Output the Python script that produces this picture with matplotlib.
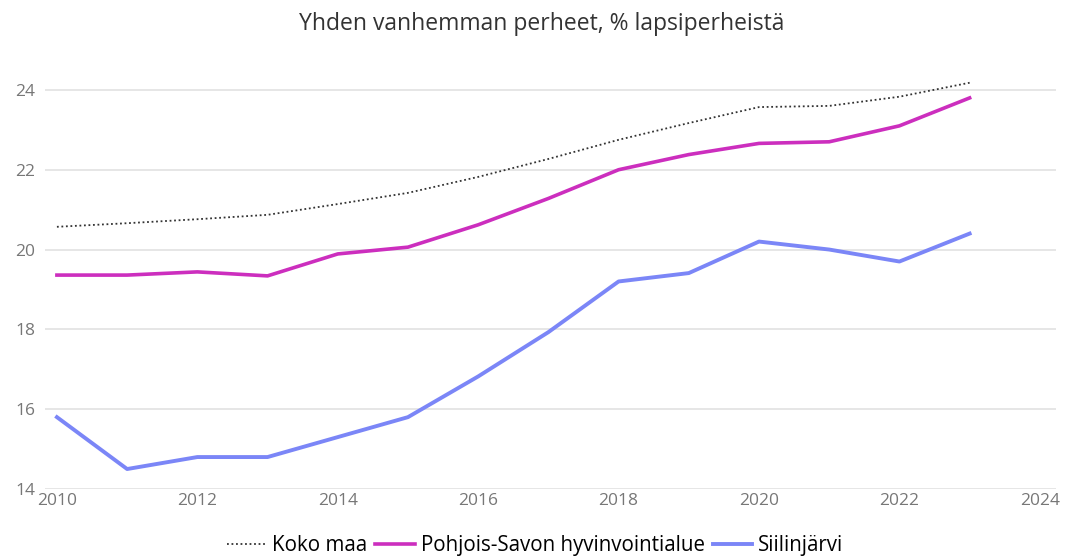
import matplotlib
matplotlib.use('Agg')
import matplotlib.pyplot as plt

plt.rcParams['font.family'] = ['Open Sans', 'DejaVu Sans']

years = list(range(2010, 2024))
koko_maa = [20.57, 20.66, 20.76, 20.87, 21.14, 21.42, 21.82, 22.27, 22.75, 23.17,
            23.57, 23.60, 23.83, 24.18]
pohjois_savo = [19.36, 19.36, 19.44, 19.34, 19.89, 20.06, 20.62, 21.28, 22.0, 22.38,
                22.66, 22.70, 23.10, 23.80]
siilinjarvi = [15.8, 14.5, 14.8, 14.8, 15.3, 15.8, 16.82, 17.93, 19.2, 19.41,
               20.2, 20.0, 19.7, 20.4]

xticks = [2010, 2012, 2014, 2016, 2018, 2020, 2022, 2024]
yticks = [14, 16, 18, 20, 22, 24]

fig = plt.figure(figsize=(10.66, 5.58), dpi=100)
ax = fig.add_axes([0.0422, 0.1237, 0.9484, 0.7509])

ax.plot(years, koko_maa, color='#333333', linestyle=(0, (1, 1.5)), linewidth=1.3,
        label='Koko maa')
ax.plot(years, pohjois_savo, color='#CC2EBE', linewidth=2.6, label='Pohjois-Savon hyvinvointialue')
ax.plot(years, siilinjarvi, color='#7B86F7', linewidth=2.8, label='Siilinjärvi')

ax.set_xlim(2009.83, 2024.23)
ax.set_ylim(14, 24.5)
ax.set_xticks(xticks)
ax.set_yticks(yticks)
ax.grid(axis='y', color='#e2e2e2', linewidth=1.2)
ax.set_axisbelow(True)
for s in ax.spines.values():
    s.set_visible(False)
ax.tick_params(length=0, labelsize=12.5, colors='#777777', pad=3)
ax.tick_params(axis='y', pad=7)

fig.suptitle('Yhden vanhemman perheet, % lapsiperheistä', x=0.508, y=0.978,
             fontsize=16.5, color='#333333')

leg = fig.legend(loc='lower center', bbox_to_anchor=(0.502, -0.03), ncol=3, frameon=False,
                 fontsize=14.8, handlelength=1.9, handletextpad=0.3, columnspacing=0.4)

fig.savefig('out.png', dpi=100)
